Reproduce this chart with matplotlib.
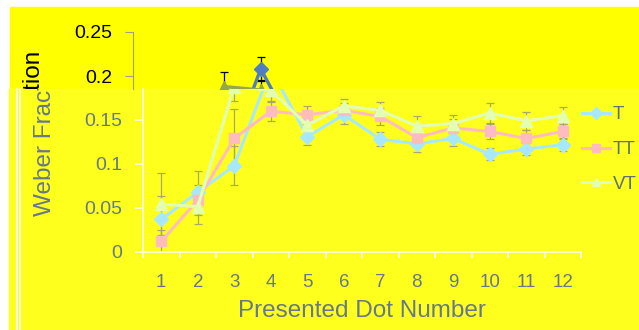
import matplotlib
matplotlib.use('Agg')
import matplotlib.pyplot as plt
from matplotlib.patches import Rectangle
from matplotlib.lines import Line2D
from matplotlib.transforms import Bbox, TransformedBbox

plt.rcParams['font.family'] = ['Liberation Sans', 'DejaVu Sans']

dots = [1, 2, 3, 4, 5, 6, 7, 8, 9, 10, 11, 12]
t_vals = [0.037, 0.068, 0.098, 0.208, 0.131, 0.156, 0.128, 0.123, 0.129, 0.111, 0.117, 0.122]
tt_vals = [0.012, 0.059, 0.129, 0.160, 0.156, 0.161, 0.154, 0.130, 0.141, 0.137, 0.129, 0.137]
vt_vals = [0.0545, 0.0515, 0.188, 0.184, 0.144, 0.166, 0.161, 0.143, 0.146, 0.158, 0.149, 0.155]
t_err = [0.027, 0.024, 0.022, 0.014, 0.009, 0.010, 0.008, 0.009, 0.008, 0.007, 0.007, 0.007]
tt_err = [0.013, 0.017, 0.034, 0.011, 0.010, 0.008, 0.010, 0.011, 0.010, 0.009, 0.010, 0.009]
vt_err = [0.035, 0.020, 0.016, 0.012, 0.010, 0.008, 0.010, 0.012, 0.010, 0.011, 0.010, 0.010]
series_names = ['T', 'TT', 'VT']
y_ticks = [0, 0.05, 0.1, 0.15, 0.2, 0.25]
y_tick_labels = ['0', '0.05', '0.1', '0.15', '0.2', '0.25']

W, H = 639, 330


def fx(x):
    return x / W


def fy(y):
    return 1 - y / H


def box(x0, y0, x1, y1):
    # pixel box (top-left origin) -> [left, bottom, width, height] in figure fraction
    return [fx(x0), fy(y1), fx(x1) - fx(x0), fy(y0) - fy(y1)]


fig = plt.figure(figsize=(W / 100, H / 100), dpi=100, facecolor='white')

# backgrounds
fig.patches.append(Rectangle((fx(10), fy(89)), fx(W) - fx(10), fy(7) - fy(89),
                             transform=fig.transFigure, color='#ffff00', zorder=-3))
fig.patches.append(Rectangle((fx(9), 0), 1 - fx(9), fy(89),
                             transform=fig.transFigure, color='#ffff1e', zorder=-3))
for xl in (16.5, 19.5):
    fig.lines.append(Line2D([fx(xl), fx(xl)], [0, fy(89)], transform=fig.transFigure,
                            color='white', lw=1.2, zorder=-2))

y_lo = (252 - 89) / 880.0  # value at the seam between the two bands


def draw_series(ax, colors, ecolor, lw):
    markers = ['D', 's', '^']
    sizes = [7, 7, 8.5]
    for vals, errs, c, m, ms, name in zip([t_vals, tt_vals, vt_vals], [t_err, tt_err, vt_err],
                                          colors, markers, sizes, series_names):
        ax.errorbar(dots, vals, yerr=errs, fmt='none', ecolor=ecolor, elinewidth=0.9,
                    capsize=2.6, capthick=0.9, zorder=2)
        ax.plot(dots, vals, color=c, lw=lw, marker=m, ms=ms, mec=c, mfc=c, label=name, zorder=3)


# upper band
ax_top = fig.add_axes(box(133, 32, 571, 89))
ax_top.set_facecolor('none')
draw_series(ax_top, ['#4f7ebf', '#c0504d', '#93a84e'], 'black', 2.4)
ax_top.set_xlim(0.5, 12.5)
ax_top.set_ylim(y_lo, 0.25)
for s in ['top', 'right', 'bottom']:
    ax_top.spines[s].set_visible(False)
ax_top.spines['left'].set_color('#a0a07a')
ax_top.set_xticks([])
ax_top.set_yticks(y_ticks[4:])
ax_top.set_yticklabels(y_tick_labels[4:])
ax_top.tick_params(axis='y', direction='out', length=5.8, color='#a0a07a', pad=9,
                   labelsize=14, labelcolor='black')

# lower band
ax = fig.add_axes(box(143, 89, 581, 252))
ax.set_facecolor('none')
draw_series(ax, ['#a6e8ff', '#ffbcc0', '#e2ffb4'], '#a8a86a', 2.2)
ax.set_xlim(0.5, 12.5)
ax.set_ylim(0, y_lo)
for s in ['top', 'right']:
    ax.spines[s].set_visible(False)
for s in ['left', 'bottom']:
    ax.spines[s].set_color('#fffff0')
    ax.spines[s].set_linewidth(1.2)
ax.set_yticks(y_ticks[:4])
ax.set_yticklabels(y_tick_labels[:4])
ax.set_xticks(dots)
ax.set_xticks([d - 0.5 for d in dots] + [12.5], minor=True)
ax.tick_params(axis='y', direction='out', length=5.8, width=1.2, color='#fffff0', pad=9,
               labelsize=14, labelcolor='#66788a')
ax.tick_params(axis='x', which='major', length=0, pad=16, labelsize=13.5, labelcolor='#66788a')
ax.tick_params(axis='x', which='minor', direction='out', length=4.5, width=1.2, color='#fffff0')
ax.set_xlabel('Presented Dot Number', fontsize=17.5, color='#66788a', labelpad=6)

leg = ax.legend(loc='upper left', bbox_to_anchor=(fx(582), fy(106)), bbox_transform=fig.transFigure,
                frameon=False, fontsize=13.5, labelcolor='#5d7270', handlelength=1.5,
                handletextpad=0.15, labelspacing=0.95, borderaxespad=0, borderpad=0)
for h in leg.legend_handles:
    h.set_markersize(6)

# axis title, split across the two bands
top_clip = TransformedBbox(Bbox.from_extents(0, fy(89), 1, 1), fig.transFigure)
low_clip = TransformedBbox(Bbox.from_extents(0, 0, 1, fy(89)), fig.transFigure)
t1 = fig.text(fx(34), fy(133), 'Weber Fraction', rotation=90, ha='center', va='center',
              fontsize=17.5, color='black')
t1.set_clip_box(top_clip)
t1.set_clip_on(True)
t2 = fig.text(fx(45), fy(133), 'Weber Fraction', rotation=90, ha='center', va='center',
              fontsize=17.5, color='#66788a')
t2.set_clip_box(low_clip)
t2.set_clip_on(True)

fig.savefig('out.png', dpi=100, facecolor='white')
